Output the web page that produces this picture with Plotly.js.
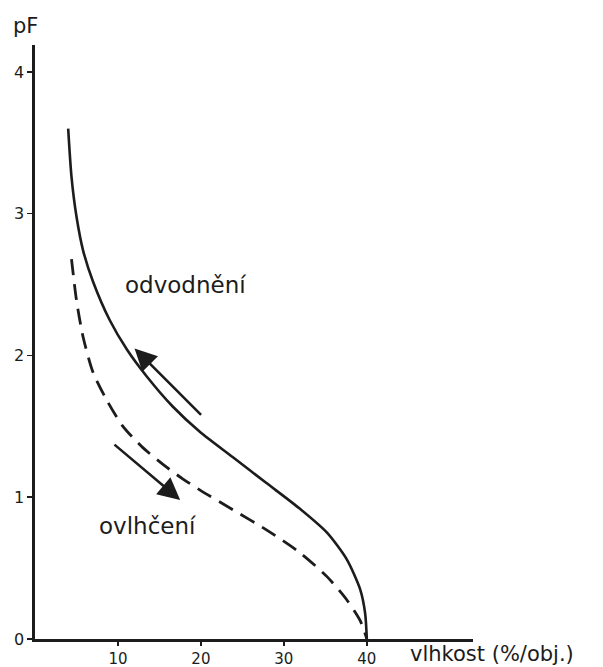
<!DOCTYPE html>
<html>
<head>
<meta charset="utf-8">
<script src="https://cdn.plot.ly/plotly-3.0.1.min.js"></script>
<style>
  html, body { margin: 0; padding: 0; background: #ffffff; }
  #chart { width: 603px; height: 667px; }
</style>
</head>
<body>
<div id="chart"></div>
<script>
// --- data ---
const xTicks = [10, 20, 30, 40];
const yTicks = [0, 1, 2, 3, 4];

// drainage curve (odvodnění) - solid
const drainX = [4.0, 4.4, 5.0, 5.8, 7.0, 9.0, 11.1, 13.5, 16.6, 19.9, 23.9, 27.9, 31.9, 35.2, 37.6, 39.2, 39.8, 40.0];
const drainY = [3.60, 3.26, 2.98, 2.74, 2.52, 2.25, 2.04, 1.85, 1.64, 1.46, 1.28, 1.10, 0.92, 0.75, 0.56, 0.35, 0.18, 0.0];

// wetting curve (ovlhčení) - dashed
const wetX = [4.4, 5.0, 5.8, 7.0, 8.6, 10.6, 13.0, 15.9, 17.8, 19.9, 23.9, 27.9, 31.9, 35.2, 37.6, 39.2, 40.0];
const wetY = [2.68, 2.39, 2.13, 1.88, 1.69, 1.50, 1.35, 1.21, 1.13, 1.05, 0.91, 0.77, 0.61, 0.44, 0.275, 0.13, 0.0];

// labels and arrows (tail -> head, data coords)
const labelDrain = "odvodnění";
const labelWet = "ovlhčení";
const drainLabelPos = [18.1, 2.50];
const wetLabelPos = [13.6, 0.80];
const drainArrow = { tail: [20.2, 1.57], head: [12.0, 2.05] };
const wetArrow = { tail: [9.4, 1.38], head: [17.5, 0.98] };
const yTitle = "pF";
const xTitle = "vlhkost (%/obj.)";

const ink = "#1c1c1c";
const font = "DejaVu Sans, sans-serif";

const traces = [
  { x: drainX, y: drainY, type: "scatter", mode: "lines", line: { color: ink, width: 2.6, shape: "spline", smoothing: 0.7 }, hoverinfo: "skip", showlegend: false },
  { x: wetX, y: wetY, type: "scatter", mode: "lines", line: { color: ink, width: 2.8, dash: "16px,9px", shape: "spline", smoothing: 0.7 }, hoverinfo: "skip", showlegend: false }
];

function arrow(a) {
  return { x: a.head[0], y: a.head[1], ax: a.tail[0], ay: a.tail[1], xref: "x", yref: "y", axref: "x", ayref: "y",
           text: "", showarrow: true, arrowhead: 2, arrowsize: 1.7, arrowwidth: 2.6, arrowcolor: ink };
}

const layout = {
  width: 603, height: 667,
  margin: { l: 35, r: 130, t: 45, b: 28 },
  paper_bgcolor: "#ffffff", plot_bgcolor: "#ffffff",
  showlegend: false,
  xaxis: {
    range: [0, 52.8], showgrid: false, zeroline: false, showline: true, linecolor: ink, linewidth: 2.6,
    tickmode: "array", tickvals: xTicks, ticktext: xTicks.map(String), ticks: "outside", ticklen: 4, tickwidth: 1.5, tickcolor: ink,
    tickfont: { family: font, size: 15, color: ink }, fixedrange: true
  },
  yaxis: {
    range: [0, 4.19], showgrid: false, zeroline: false, showline: true, linecolor: ink, linewidth: 2.6,
    tickmode: "array", tickvals: yTicks, ticktext: yTicks.map(String), ticks: "outside", ticklen: 5, tickwidth: 1.5, tickcolor: ink,
    tickfont: { family: font, size: 16, color: ink }, fixedrange: true
  },
  annotations: [
    { x: drainLabelPos[0], y: drainLabelPos[1], xref: "x", yref: "y", text: labelDrain, showarrow: false, font: { family: font, size: 23, color: ink } },
    { x: wetLabelPos[0], y: wetLabelPos[1], xref: "x", yref: "y", text: labelWet, showarrow: false, font: { family: font, size: 23, color: ink } },
    arrow(drainArrow),
    arrow(wetArrow),
    { x: -0.0228, y: 1.032, xref: "paper", yref: "paper", xanchor: "center", yanchor: "middle", text: yTitle, showarrow: false, font: { family: font, size: 21, color: ink } },
    { x: 0.8516, y: -0.0253, xref: "paper", yref: "paper", xanchor: "left", yanchor: "middle", text: xTitle, showarrow: false, font: { family: font, size: 21, color: ink } }
  ]
};

Plotly.newPlot("chart", traces, layout, { displayModeBar: false, staticPlot: true });
</script>
</body>
</html>
